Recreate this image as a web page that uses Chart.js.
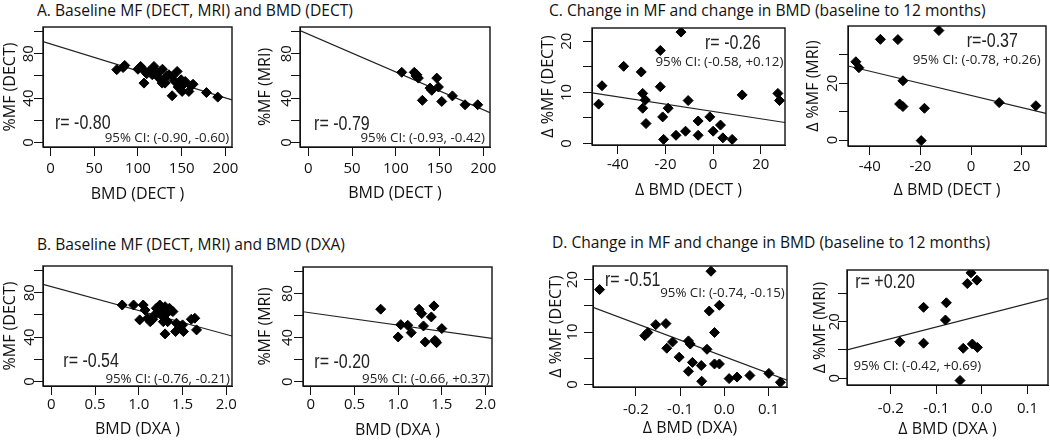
<!DOCTYPE html>
<html>
<head>
<meta charset="utf-8">
<script src="https://cdn.jsdelivr.net/npm/chart.js@4.4.1/dist/chart.umd.min.js"></script>
<style>
  html, body { margin: 0; padding: 0; background: #fff; overflow: hidden; }
  #fig { position: relative; width: 1050px; height: 440px; overflow: hidden; }
  #fig canvas { position: absolute; }
  .title { position: absolute; font-family: 'Open Sans', sans-serif; font-size: 15.6px; line-height: 20px; color: #111; white-space: nowrap; }
</style>
</head>
<body>
<div id="fig">
  <div class="title" style="left:37px; top:0px">A. Baseline MF (DECT, MRI) and BMD (DECT)</div>
  <div class="title" style="left:549px; top:0px">C. Change in MF and change in BMD (baseline to 12 months)</div>
  <div class="title" style="left:37px; top:234px">B. Baseline MF (DECT, MRI) and BMD (DXA)</div>
  <div class="title" style="left:552px; top:232px">D. Change in MF and change in BMD (baseline to 12 months)</div>
</div>
<script>
// ---- data ----
// A: baseline BMD (DECT) vs %MF
const a1Bmd = [75.8, 84.9, 83, 103.1, 106.1, 100, 106.9, 112.6, 118.3, 120, 116.4, 122, 124, 127.7, 131, 135.4, 139.1,
  144.8, 142.2, 149.4, 139.1, 151.7, 150.5, 158.2, 160.8, 163, 178.3, 191.2, 110, 128, 133, 146, 154];
const a1Mf = [65.6, 69.4, 67.5, 68.5, 65.6, 66, 53.5, 64, 68.5, 65, 61, 62, 58, 53.5, 53.5, 61, 59.5,
  64, 55, 56.5, 42.1, 52, 46, 46, 51, 52.5, 45, 40.9, 62, 66, 60, 50, 55];
const a2Bmd = [106.7, 121, 124, 125.7, 130.3, 139, 141, 146.7, 148.6, 152.4, 164.6, 179, 193.5, 123];
const a2Mf = [63.2, 63.2, 61, 58, 38, 49, 47, 58, 50, 37, 42, 34, 34, 60];

// B: baseline BMD (DXA) vs %MF
const b1Bmd = [0.81, 0.94, 1.05, 1.07, 1.01, 1.13, 1.18, 1.24, 1.26, 1.30, 1.32, 1.35, 1.39, 1.28, 1.33, 1.43,
  1.30, 1.42, 1.51, 1.60, 1.64, 1.66, 1.22, 1.16, 1.47, 1.50, 1.20, 1.37, 1.28, 1.10];
const b1Mf = [68.9, 68.9, 68.9, 64.4, 55.5, 53.9, 60, 68.9, 64.4, 67.4, 61.5, 66, 63, 53.9, 53.9, 52.5,
  42.9, 45, 45, 56.1, 57, 46.5, 62, 56, 49, 51, 66, 64, 58, 57];
const b2Bmd = [0.80, 1.0, 1.03, 1.11, 1.15, 1.24, 1.27, 1.29, 1.31, 1.38, 1.41, 1.42, 1.44, 1.50, 1.43];
const b2Mf = [65.7, 40.5, 51.7, 51.1, 44.4, 65.7, 61.7, 50.5, 35.9, 58.7, 68.7, 37.4, 35.3, 48.1, 36.5];

// C: change in BMD (DECT) vs change in %MF
const c1dBmd = [-48.1, -46.7, -37.6, -30.2, -29.6, -29.6, -28.5, -28.2, -22.2, -22.2, -21.2, -20.8, -18.9, -15.6,
  -13.5, -11.6, -10.5, -6.3, -6.3, -1.4, 0, 3.1, 4.1, 8.0, 12.2, 27.2, 27.9];
const c1dMf = [7.7, 11.3, 15.1, 14.0, 9.8, 6.9, 8.5, 3.9, 18.2, 11.1, 5.2, 0.8, 6.9, 1.6,
  21.8, 2.4, 8.4, 4.4, 1.6, 5.2, 2.4, 3.6, 1.1, 0.8, 9.5, 9.8, 8.4];
const c2dBmd = [-35.8, -28.9, -12.7, -45.5, -44.3, -26.9, -28.2, -26.9, -18.4, -19.7, 11.1, 25.6];
const c2dMf = [35.5, 35.4, 38.6, 27.6, 25.5, 20.9, 12.7, 11.8, 11.2, -0.2, 13.2, 12.1];

// D: change in BMD (DXA) vs change in %MF
const d1dBmd = [-0.282, -0.030, -0.180, -0.173, -0.155, -0.132, -0.130, -0.117, -0.102, -0.081, -0.077, -0.081, -0.072,
  -0.052, -0.051, -0.039, -0.034, -0.011, -0.022, -0.022, -0.011, 0.011, 0.029, 0.058, 0.101, 0.127];
const d1dMf = [18.1, 21.6, 9.3, 9.9, 11.4, 11.6, 6.9, 8.1, 5.2, 8.3, 7.7, 2.5, 4.2,
  3.6, 0.6, 6.7, 14.0, 15.1, 9.9, 3.9, 3.9, 1.1, 1.4, 1.7, 2.1, 0.4];
const d2dBmd = [-0.180, -0.128, -0.128, -0.078, -0.080, -0.041, -0.032, -0.024, -0.011, -0.021, -0.010, -0.048];
const d2dMf = [12.9, 25.1, 12.4, 26.7, 20.6, 10.6, 33.5, 37.3, 34.7, 12.1, 10.9, -0.8];

// fitted lines, read at the two box edges
const a1Fit = [[-8.5, 90.8], [207.5, 38.3]];
const a2Fit = [[-9.5, 100.7], [207.5, 26.9]];
const b1Fit = [[-0.095, 87.5], [2.065, 41.0]];
const b2Fit = [[-0.09, 63.4], [2.075, 39.3]];
const c1Fit = [[-50.9, 9.9], [30.2, 4.1]];
const c2Fit = [[-48.6, 26.1], [29.6, 9.4]];
const d1Fit = [[-0.297, 14.7], [0.142, 0.8]];
const d2Fit = [[-0.296, 10.0], [0.145, 28.3]];

// ticks
const bmdDectTicks = [0, 50, 100, 150, 200];
const bmdDectLabels = ['0', '50', '100', '150', '200'];
const bmdDxaTicks = [0, 0.5, 1.0, 1.5, 2.0];
const bmdDxaLabels = ['0', '0.5', '1.0', '1.5', '2.0'];
const dBmdDectTicks = [-40, -20, 0, 20];
const dBmdDectLabels = ['-40', '-20', '0', '20'];
const dBmdDxaTicks = [-0.2, -0.1, 0.0, 0.1];
const dBmdDxaLabels = ['-0.2', '-0.1', '0.0', '0.1'];
const mfTicks = [0, 20, 40, 60, 80, 100];
const mfLabels = ['0', '', '40', '', '80', ''];
const dMfDectTicks = [0, 5, 10, 15, 20];
const dMfDectLabels = ['0', '', '10', '', '20'];
const dMfMriTicks = [0, 10, 20, 30];
const dMfMriLabels = ['0', '', '20', ''];

const FONT = "'Open Sans', sans-serif";
const INK = '#111';

const panels = [
  { box: [43, 27, 232, 147], x: [-8.5, 207.5], y: [-4, 104], xs: a1Bmd, ys: a1Mf, fit: a1Fit,
    xTicks: bmdDectTicks, xLabels: bmdDectLabels, yTicks: mfTicks, yLabels: mfLabels,
    xTitle: 'BMD (DECT )', yTitle: '%MF (DECT)', gaps: [22, 47, 14, 33],
    notes: [{ kind: 'r', text: 'r= -0.80', x: 5.2, y: 17.6, align: 'left' },
            { kind: 'ci', text: '95% CI: (-0.90, -0.60)', x: 204.4, y: 3.5, align: 'right' }] },
  { box: [300, 27, 490, 147], x: [-9.5, 207.5], y: [-4, 104], xs: a2Bmd, ys: a2Mf, fit: a2Fit,
    xTicks: bmdDectTicks, xLabels: bmdDectLabels, yTicks: mfTicks, yLabels: mfLabels,
    xTitle: 'BMD (DECT )', yTitle: '%MF (MRI)', gaps: [22, 46, 13, 35],
    notes: [{ kind: 'r', text: 'r= -0.79', x: 6.6, y: 16.7, align: 'left' },
            { kind: 'ci', text: '95% CI: (-0.93, -0.42)', x: 201.8, y: 3.5, align: 'right' }] },
  { box: [592, 28, 785, 145], x: [-50.9, 30.2], y: [-0.3, 22.6], xs: c1dBmd, ys: c1dMf, fit: c1Fit,
    xTicks: dBmdDectTicks, xLabels: dBmdDectLabels, yTicks: dMfDectTicks, yLabels: dMfDectLabels,
    xTitle: 'Δ BMD (DECT )', yTitle: 'Δ %MF (DECT)', gaps: [20, 45, 25, 44],
    notes: [{ kind: 'r', text: 'r= -0.26', x: -3.4, y: 19.6, align: 'left' },
            { kind: 'ci', text: '95% CI: (-0.58, +0.12)', x: 29.5, y: 16.0, align: 'right' }] },
  { box: [848, 26, 1046, 146], x: [-48.6, 29.6], y: [-2.1, 40.2], xs: c2dBmd, ys: c2dMf, fit: c2Fit,
    xTicks: dBmdDectTicks, xLabels: dBmdDectLabels, yTicks: dMfMriTicks, yLabels: dMfMriLabels,
    xTitle: 'Δ BMD (DECT )', yTitle: 'Δ %MF (MRI)', gaps: [21, 44, 15, 35],
    notes: [{ kind: 'r', text: 'r=-0.37', x: -1.7, y: 34.7, align: 'left' },
            { kind: 'ci', text: '95% CI: (-0.78, +0.26)', x: 27.5, y: 28.0, align: 'right' }] },
  { box: [43, 266, 232, 386], x: [-0.095, 2.065], y: [-4, 104], xs: b1Bmd, ys: b1Mf, fit: b1Fit,
    xTicks: bmdDxaTicks, xLabels: bmdDxaLabels, yTicks: mfTicks, yLabels: mfLabels,
    xTitle: 'BMD (DXA )', yTitle: '%MF (DECT)', gaps: [19, 43, 13, 33],
    notes: [{ kind: 'r', text: 'r= -0.54', x: 0.137, y: 17.9, align: 'left' },
            { kind: 'ci', text: '95% CI: (-0.76, -0.21)', x: 2.042, y: 2.0, align: 'right' }] },
  { box: [303, 267, 492, 386], x: [-0.09, 2.075], y: [-4, 104], xs: b2Bmd, ys: b2Mf, fit: b2Fit,
    xTicks: bmdDxaTicks, xLabels: bmdDxaLabels, yTicks: mfTicks, yLabels: mfLabels,
    xTitle: 'BMD (DXA )', yTitle: '%MF (MRI)', gaps: [19, 44, 15, 38],
    notes: [{ kind: 'r', text: 'r= -0.20', x: 0.04, y: 17.2, align: 'left' },
            { kind: 'ci', text: '95% CI: (-0.66, +0.37)', x: 2.052, y: 2.1, align: 'right' }] },
  { box: [593, 266, 787, 387], x: [-0.297, 0.142], y: [-0.5, 22.6], xs: d1dBmd, ys: d1dMf, fit: d1Fit,
    xTicks: dBmdDxaTicks, xLabels: dBmdDxaLabels, yTicks: dMfDectTicks, yLabels: dMfDectLabels,
    xTitle: 'Δ BMD (DXA)', yTitle: 'Δ %MF (DECT)', gaps: [23, 41, 20, 37],
    notes: [{ kind: 'r', text: 'r= -0.51', x: -0.270, y: 19.8, align: 'left' },
            { kind: 'ci', text: '95% CI: (-0.74, -0.15)', x: 0.137, y: 17.4, align: 'right' }] },
  { box: [847, 270, 1048, 385], x: [-0.296, 0.145], y: [-2.4, 38.3], xs: d2dBmd, ys: d2dMf, fit: d2Fit,
    xTicks: dBmdDxaTicks, xLabels: dBmdDxaLabels, yTicks: dMfMriTicks, yLabels: dMfMriLabels,
    xTitle: 'Δ BMD (DXA )', yTitle: 'Δ %MF (MRI)', gaps: [24, 44, 12, 27],
    notes: [{ kind: 'r', text: 'r= +0.20', x: -0.278, y: 33.8, align: 'left' },
            { kind: 'ci', text: '95% CI: (-0.42, +0.69)', x: -0.282, y: 4.1, align: 'left' }] }
];

// box round the plot area
const framePlugin = {
  id: 'frame',
  afterDatasetsDraw(chart) {
    const { ctx, chartArea: a } = chart;
    ctx.save();
    ctx.strokeStyle = INK;
    ctx.lineWidth = 1.4;
    ctx.strokeRect(a.left, a.top, a.right - a.left, a.bottom - a.top);
    ctx.restore();
  }
};

const notesPlugin = (notes) => ({
  id: 'notes',
  afterDraw(chart) {
    const ctx = chart.ctx;
    notes.forEach(n => {
      const px = chart.scales.x.getPixelForValue(n.x);
      const py = chart.scales.y.getPixelForValue(n.y);
      ctx.save();
      ctx.fillStyle = '#222';
      ctx.textBaseline = 'middle';
      ctx.textAlign = n.align;
      if (n.kind === 'r') {
        ctx.font = "20px 'Liberation Sans', sans-serif";
        ctx.translate(px, py);
        ctx.scale(0.8, 1);
        ctx.fillText(n.text, 0, 0);
      } else {
        ctx.font = "13.3px " + FONT;
        ctx.fillText(n.text, px, py);
      }
      ctx.restore();
    });
  }
});

const fig = document.getElementById('fig');

panels.forEach(p => {
  const [bl, bt, br, bb] = p.box;
  const [xLabelGap, xTitleGap, yLabelGap, yTitleGap] = p.gaps;
  const left = bl - 62, top = bt - 24;
  const right = br + 16, bottom = Math.round(bb + xTitleGap + 9.6);

  const canvas = document.createElement('canvas');
  canvas.width = right - left;
  canvas.height = bottom - top;
  canvas.style.left = left + 'px';
  canvas.style.top = top + 'px';
  fig.appendChild(canvas);

  const points = p.xs.map((v, i) => ({ x: v, y: p.ys[i] }));
  const fitLine = p.fit.map(([x, y]) => ({ x, y }));

  const axisCommon = {
    type: 'linear',
    grid: { drawOnChartArea: false, drawTicks: true, tickLength: 9, color: INK, lineWidth: 1 },
    border: { display: true, color: INK, width: 1 }
  };

  new Chart(canvas, {
    type: 'scatter',
    data: {
      datasets: [
        {
          data: points,
          pointStyle: 'rectRot',
          pointRadius: 5,
          pointBackgroundColor: '#000',
          pointBorderColor: '#000',
          pointBorderWidth: 1,
          order: 0
        },
        {
          type: 'line',
          data: fitLine,
          borderColor: '#222',
          borderWidth: 1.2,
          pointRadius: 0,
          fill: false,
          order: 1
        }
      ]
    },
    options: {
      responsive: false,
      animation: false,
      devicePixelRatio: 1,
      layout: { padding: { left: 0, top: bt - top, right: right - br, bottom: 0 } },
      plugins: { legend: { display: false }, tooltip: { enabled: false } },
      scales: {
        x: {
          ...axisCommon,
          position: 'bottom',
          min: p.x[0],
          max: p.x[1],
          afterFit: s => { s.height = bottom - bb; },
          afterBuildTicks: s => { s.ticks = p.xTicks.map(v => ({ value: v })); },
          ticks: {
            autoSkip: false, maxRotation: 0, padding: xLabelGap - 18,
            color: INK, font: { family: FONT, size: 15 },
            callback: (v, i) => p.xLabels[i]
          },
          title: { display: true, text: p.xTitle, color: INK, font: { family: FONT, size: 16 }, padding: { top: 0, bottom: 0 } }
        },
        y: {
          ...axisCommon,
          position: 'left',
          min: p.y[0],
          max: p.y[1],
          afterFit: s => { s.width = bl - left; },
          afterBuildTicks: s => { s.ticks = p.yTicks.map(v => ({ value: v })); },
          ticks: {
            autoSkip: false, minRotation: 90, maxRotation: 90, crossAlign: 'center',
            padding: yLabelGap - 9 - 8.6,
            color: INK, font: { family: FONT, size: 15 },
            callback: (v, i) => p.yLabels[i]
          },
          title: { display: true, text: p.yTitle, color: INK, font: { family: FONT, size: 16 }, padding: { top: 62 - yTitleGap - 9.6, bottom: 0 } }
        }
      }
    },
    plugins: [framePlugin, notesPlugin(p.notes)]
  });
});
</script>
</body>
</html>
